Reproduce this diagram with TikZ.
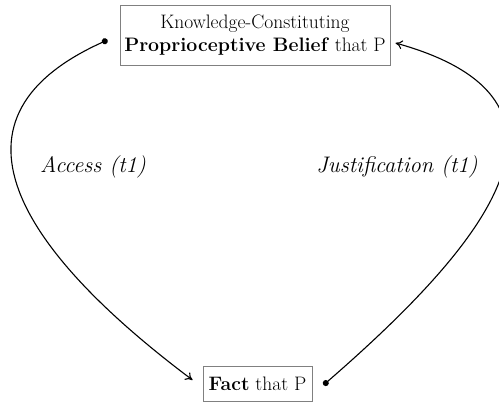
\documentclass[tikz,border=0pt]{standalone}
\usepackage{fontspec}
\usetikzlibrary{arrows.meta}
\begin{document}
\begin{tikzpicture}[x=1pt,y=-1pt,
  box/.style={draw=black!50,line width=1pt,inner sep=0pt,align=center,font=\fontsize{19.5}{23}\selectfont},
  lbl/.style={font=\fontsize{22.5}{26}\selectfont\itshape},
  conn/.style={line width=1.1pt,{Circle[length=6pt]}-{To[length=7pt,width=9pt]}}]
\useasboundingbox (0,0) rectangle (499,402);
\node[box,minimum width=270pt,minimum height=60pt] (K) at (255,35)
  {Knowledge-Constituting\\\textbf{Proprioceptive Belief} that P};
\node[box,minimum width=109pt,minimum height=35pt] (F) at (257.5,383.5)
  {\textbf{Fact} that P};
\node[lbl] (A) at (93,167) {Access (t1)};
\node[lbl] (J) at (397,167) {Justification (t1)};
\draw[conn] ([xshift=-12pt,yshift=-5pt]K.west) .. controls +(-182,82) and +(-160,-120) .. ([xshift=-10pt,yshift=3.5pt]F.west);
\draw[conn] ([xshift=11pt,yshift=-1.5pt]F.east) .. controls +(167,-145) and +(205,57) .. ([xshift=5pt,yshift=-8pt]K.east);
\end{tikzpicture}
\end{document}
